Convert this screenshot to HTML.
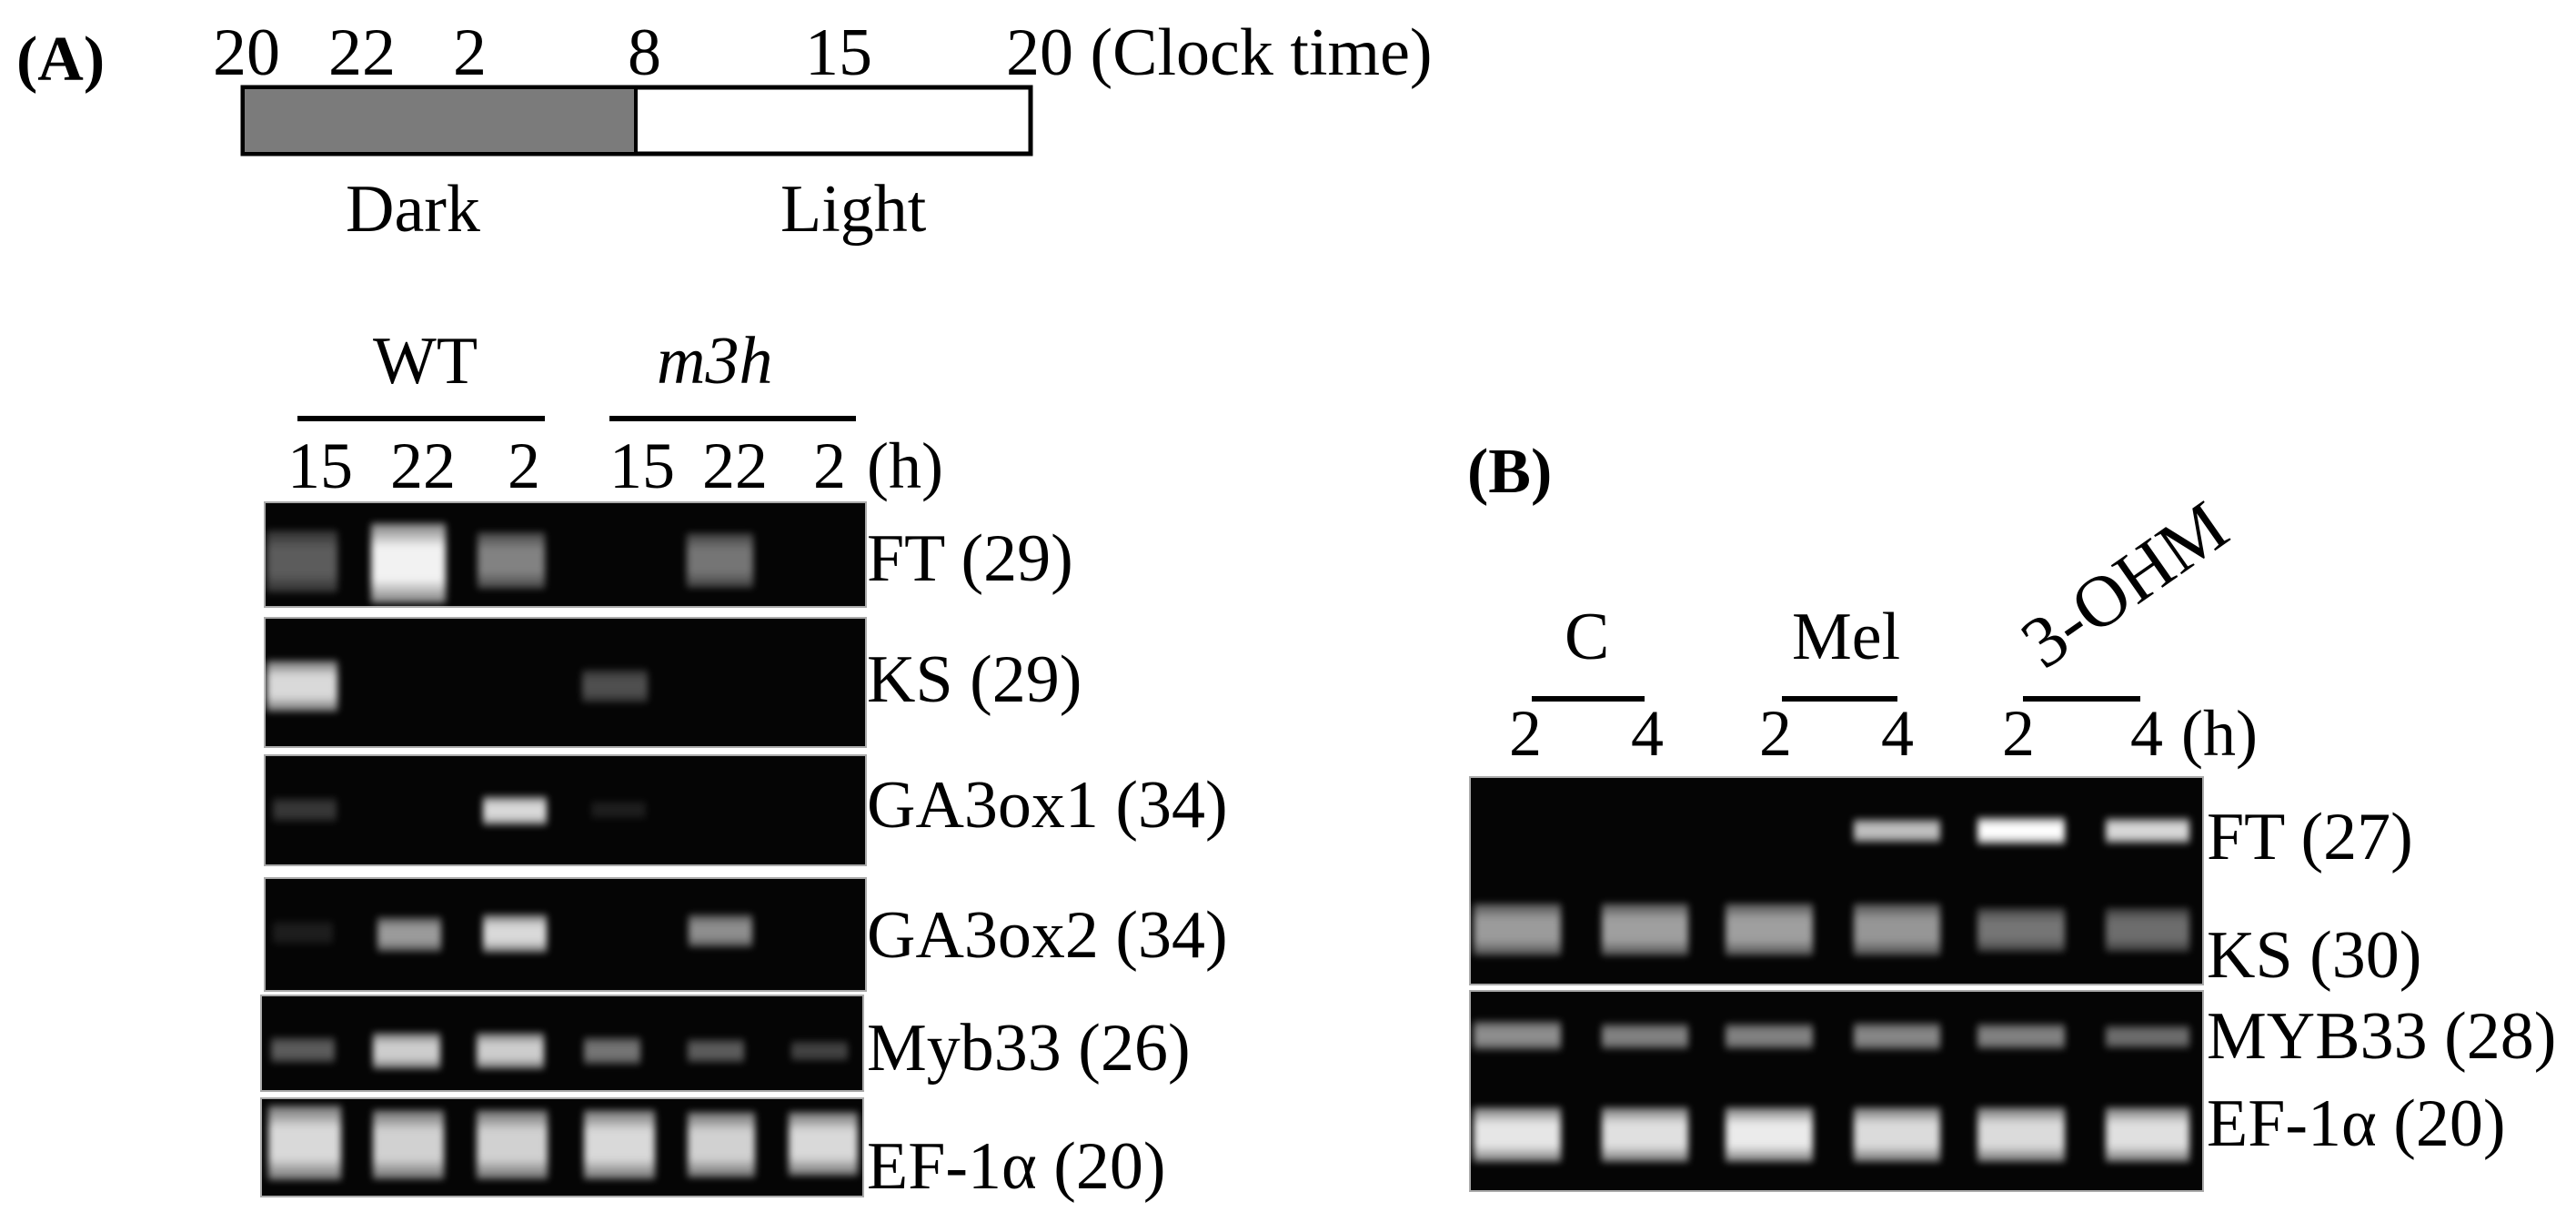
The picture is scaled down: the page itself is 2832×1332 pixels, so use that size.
<!DOCTYPE html>
<html><head><meta charset="utf-8"><style>
html,body{margin:0;padding:0;background:#fff;}
svg{display:block;}
text{font-family:"Liberation Serif",serif;fill:#000;}
</style></head><body>
<svg width="2832" height="1332" viewBox="0 0 2832 1332" xmlns="http://www.w3.org/2000/svg">
<defs>
<filter id="b" x="-20%" y="-40%" width="140%" height="180%"><feGaussianBlur stdDeviation="4"/></filter>
<linearGradient id="vg" x1="0" y1="0" x2="0" y2="1">
<stop offset="0" stop-color="#fff" stop-opacity="0.5"/><stop offset="0.3" stop-color="#fff" stop-opacity="1"/><stop offset="0.7" stop-color="#fff" stop-opacity="1"/><stop offset="1" stop-color="#fff" stop-opacity="0.5"/>
</linearGradient>
</defs>
<text x="18" y="88" font-size="70" font-weight="bold">(A)</text>
<g font-size="74">
<text x="234" y="82">20</text><text x="361" y="82">22</text><text x="498" y="82">2</text>
<text x="690" y="82">8</text><text x="885" y="82">15</text><text x="1106" y="82">20 (Clock time)</text>
</g>
<rect x="267" y="96" width="866" height="73" fill="#fff" stroke="#000" stroke-width="5"/>
<rect x="269" y="98" width="430" height="69" fill="#7b7b7b"/>
<line x1="699" y1="96" x2="699" y2="169" stroke="#000" stroke-width="4"/>
<text x="380" y="254" font-size="74">Dark</text>
<text x="858" y="254" font-size="74">Light</text>

<text x="410" y="421" font-size="74">WT</text>
<text x="722" y="421" font-size="74" font-style="italic">m3h</text>
<rect x="327" y="457" width="272" height="6" fill="#000"/>
<rect x="670" y="457" width="271" height="6" fill="#000"/>
<g font-size="72">
<text x="316" y="536">15</text><text x="429" y="536">22</text><text x="558" y="536">2</text>
<text x="670" y="536">15</text><text x="772" y="536">22</text><text x="894" y="536">2</text><text x="953" y="536">(h)</text>
</g>

<g fill="#050505" stroke="#aaa" stroke-width="2">
<rect x="291" y="552" width="661" height="115"/>
<rect x="291" y="679" width="661" height="142"/>
<rect x="291" y="830" width="661" height="121"/>
<rect x="291" y="965" width="661" height="124"/>
<rect x="287" y="1094" width="662" height="105"/>
<rect x="287" y="1207" width="662" height="108"/>
</g>
<g filter="url(#b)" fill="url(#vg)">
<rect x="293" y="583" width="78" height="68" opacity="0.35"/>
<rect x="408" y="575" width="82" height="88" opacity="0.95"/>
<rect x="525" y="585" width="74" height="62" opacity="0.5"/>
<rect x="755" y="586" width="73" height="60" opacity="0.45"/>
<rect x="293" y="726" width="78" height="56" opacity="0.85"/>
<rect x="640" y="736" width="72" height="36" opacity="0.3"/>
<rect x="300" y="877" width="70" height="26" opacity="0.2"/>
<rect x="531" y="875" width="70" height="32" opacity="0.85"/>
<rect x="650" y="880" width="60" height="20" opacity="0.1"/>
<rect x="300" y="1012" width="66" height="26" opacity="0.1"/>
<rect x="415" y="1008" width="70" height="38" opacity="0.6"/>
<rect x="531" y="1005" width="70" height="42" opacity="0.85"/>
<rect x="757" y="1005" width="70" height="36" opacity="0.55"/>
<rect x="298" y="1140" width="70" height="28" opacity="0.35"/>
<rect x="410" y="1135" width="74" height="40" opacity="0.8"/>
<rect x="524" y="1135" width="74" height="40" opacity="0.8"/>
<rect x="642" y="1140" width="62" height="30" opacity="0.45"/>
<rect x="756" y="1142" width="62" height="26" opacity="0.35"/>
<rect x="870" y="1144" width="62" height="22" opacity="0.25"/>
<rect x="295" y="1215" width="80" height="82" opacity="0.85"/>
<rect x="410" y="1220" width="78" height="76" opacity="0.82"/>
<rect x="524" y="1220" width="78" height="76" opacity="0.82"/>
<rect x="642" y="1220" width="78" height="76" opacity="0.85"/>
<rect x="756" y="1222" width="74" height="72" opacity="0.82"/>
<rect x="867" y="1222" width="76" height="70" opacity="0.85"/>
</g>
<g font-size="74">
<text x="953" y="638">FT (29)</text>
<text x="953" y="771">KS (29)</text>
<text x="953" y="909">GA3ox1 (34)</text>
<text x="953" y="1052">GA3ox2 (34)</text>
<text x="953" y="1176">Myb33 (26)</text>
<text x="953" y="1306">EF-1α (20)</text>
</g>

<text x="1613" y="541" font-size="70" font-weight="bold">(B)</text>
<g font-size="74">
<text x="1720" y="724">C</text>
<text x="1970" y="724">Mel</text>
<text x="0" y="0" transform="translate(2247,737) rotate(-35)" font-size="80">3-OHM</text>
</g>
<rect x="1684" y="765" width="124" height="6" fill="#000"/>
<rect x="1959" y="765" width="127" height="6" fill="#000"/>
<rect x="2224" y="765" width="129" height="6" fill="#000"/>
<g font-size="72">
<text x="1659" y="830">2</text><text x="1793" y="830">4</text>
<text x="1934" y="830">2</text><text x="2068" y="830">4</text>
<text x="2201" y="830">2</text><text x="2342" y="830">4</text><text x="2398" y="830">(h)</text>
</g>
<g fill="#050505" stroke="#aaa" stroke-width="2">
<rect x="1616" y="854" width="806" height="228"/>
<rect x="1616" y="1089" width="806" height="220"/>
</g>
<g filter="url(#b)" fill="url(#vg)">
<rect x="2038" y="900" width="95" height="26" opacity="0.75"/>
<rect x="2174" y="898" width="96" height="30" opacity="1"/>
<rect x="2315" y="899" width="92" height="28" opacity="0.85"/>
<rect x="1620" y="993" width="96" height="57" opacity="0.6"/>
<rect x="1761" y="993" width="95" height="57" opacity="0.62"/>
<rect x="1897" y="993" width="96" height="57" opacity="0.62"/>
<rect x="2038" y="993" width="95" height="57" opacity="0.58"/>
<rect x="2174" y="998" width="96" height="48" opacity="0.45"/>
<rect x="2315" y="998" width="92" height="48" opacity="0.42"/>
<rect x="1620" y="1122" width="96" height="32" opacity="0.55"/>
<rect x="1761" y="1125" width="95" height="28" opacity="0.5"/>
<rect x="1897" y="1125" width="96" height="28" opacity="0.5"/>
<rect x="2038" y="1124" width="95" height="30" opacity="0.52"/>
<rect x="2174" y="1125" width="96" height="28" opacity="0.5"/>
<rect x="2315" y="1127" width="92" height="25" opacity="0.42"/>
<rect x="1620" y="1217" width="96" height="60" opacity="0.9"/>
<rect x="1761" y="1217" width="95" height="60" opacity="0.88"/>
<rect x="1897" y="1217" width="96" height="60" opacity="0.92"/>
<rect x="2038" y="1217" width="95" height="60" opacity="0.86"/>
<rect x="2174" y="1217" width="96" height="60" opacity="0.86"/>
<rect x="2315" y="1217" width="92" height="60" opacity="0.88"/>
</g>
<g font-size="74">
<text x="2426" y="944">FT (27)</text>
<text x="2426" y="1074">KS (30)</text>
<text x="2426" y="1163">MYB33 (28)</text>
<text x="2426" y="1259">EF-1α (20)</text>
</g>
</svg>
</body></html>
